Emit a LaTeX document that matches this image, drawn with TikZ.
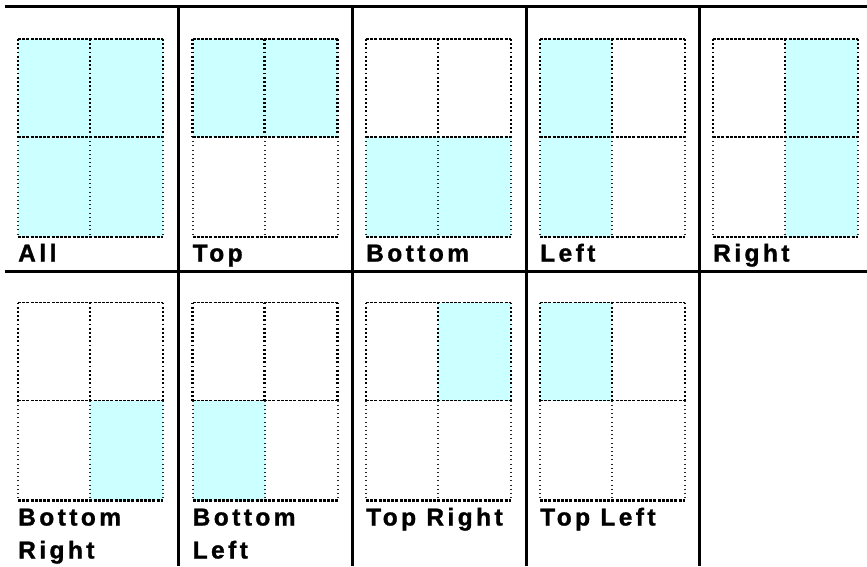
\documentclass[tikz,border=0pt]{standalone}
\usepackage{fontspec}
\newfontfamily\labfont[LetterSpace=14,FakeBold=1.2]{Liberation Sans Bold}
\definecolor{cellcyan}{HTML}{CCFFFF}
\tikzset{
  rule/.style={line width=3pt, black},
  hedge/.style={line width=1.3pt, black, dash pattern=on 3pt off 1.2pt},
  hbot/.style={line width=2.4pt, black, dash pattern=on 3pt off 1.2pt},
  vtop/.style={line width=2.2pt, black, dash pattern=on 1.8pt off 2.4pt},
  vbot/.style={line width=2pt, black!85, dash pattern=on 0.9pt off 3.3pt},
  lab/.style={anchor=base west, inner sep=0pt, font=\labfont\fontsize{24.5}{29}\selectfont},
}
% #1 x, #2 y, #3 TL, #4 TR, #5 BL, #6 BR
\newcommand\gridpanel[6]{%
  \ifnum#3=1 \fill[cellcyan] (#1,#2) rectangle ++(72,98);\fi
  \ifnum#4=1 \fill[cellcyan] (#1+72,#2) rectangle ++(73,98);\fi
  \ifnum#5=1 \fill[cellcyan] (#1,#2+98) rectangle ++(72,100);\fi
  \ifnum#6=1 \fill[cellcyan] (#1+72,#2+98) rectangle ++(73,100);\fi
  \foreach \dx in {0,72,145} {
    \draw[vtop] (#1+\dx,#2) -- (#1+\dx,#2+98);
    \draw[vbot] (#1+\dx,#2+98) -- (#1+\dx,#2+198);
  }
  \draw[hedge] (#1,#2) -- (#1+145,#2);
  \draw[hedge] (#1,#2+98) -- (#1+145,#2+98);
  \draw[hbot] (#1,#2+198) -- (#1+145,#2+198);
}
\begin{document}
\begin{tikzpicture}[x=1pt,y=-1pt]
\useasboundingbox (0,0) rectangle (867,566);
% panels, row 1
\gridpanel{18}{39}{1}{1}{1}{1}
\gridpanel{192.5}{39}{1}{1}{0}{0}
\gridpanel{366}{39}{0}{0}{1}{1}
\gridpanel{540}{39}{1}{0}{1}{0}
\gridpanel{713}{39}{0}{1}{0}{1}
% row 2
\gridpanel{18}{302.5}{0}{0}{0}{1}
\gridpanel{192.5}{302.5}{0}{0}{1}{0}
\gridpanel{366}{302.5}{0}{1}{0}{0}
\gridpanel{540}{302.5}{1}{0}{0}{0}
% labels
\node[lab] (l1) at (18,261.5) {All};
\node[lab] (l2) at (192.5,261.5) {Top};
\node[lab] (l3) at (366,261.5) {Bottom};
\node[lab] (l4) at (540,261.5) {Left};
\node[lab] (l5) at (713,261.5) {Right};
\node[lab] (l6a) at (18,525.5) {Bottom};
\node[lab] (l6b) at (18,558.5) {Right};
\node[lab] (l7a) at (192.5,525.5) {Bottom};
\node[lab] (l7b) at (192.5,558.5) {Left};
\node[lab] (l8) at (366,525.5) {Top Right};
\node[lab] (l9) at (540,525.5) {Top Left};
% table rules
\coordinate (t0) at (4.5,6.7);
\coordinate (t1) at (867,6.7);
\coordinate (m0) at (4.5,271);
\coordinate (m1) at (867,271);
\draw[rule] (t0) -- (t1);
\draw[rule] (m0) -- (m1);
\foreach \x in {178,352,526,699} {
  \draw[rule] (\x,6.7) -- (\x,566);
}
\end{tikzpicture}
\end{document}
